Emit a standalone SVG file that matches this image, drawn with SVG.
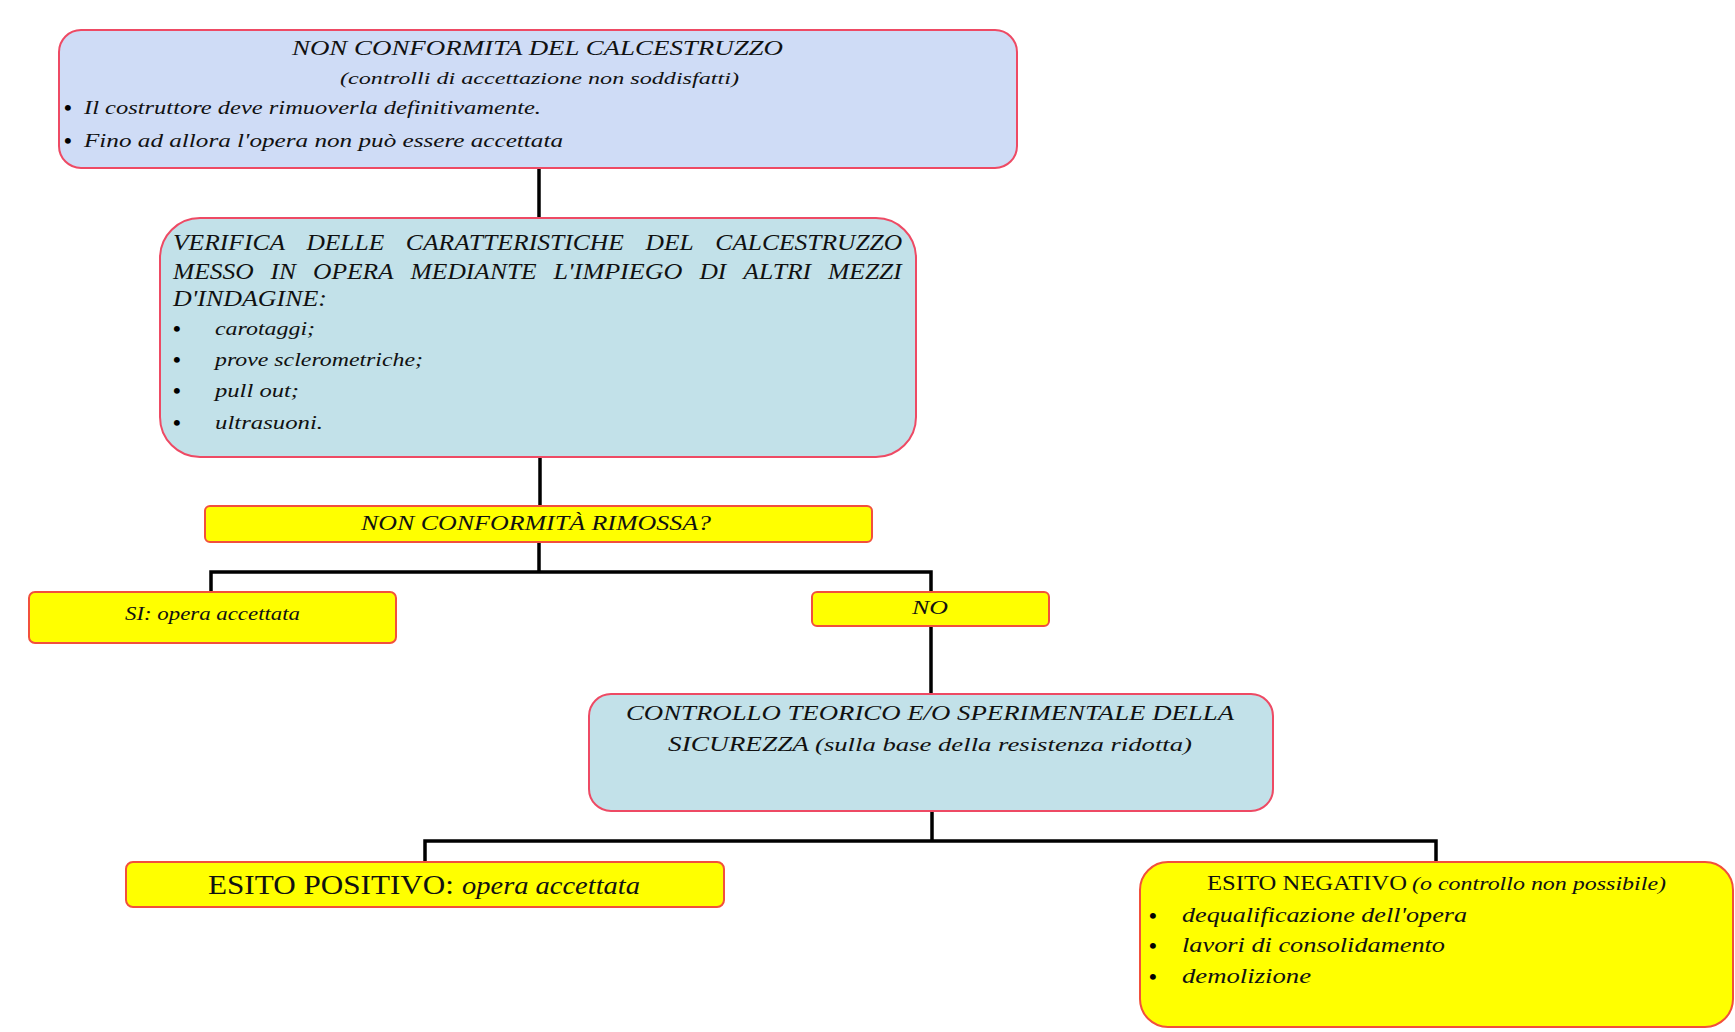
<svg xmlns="http://www.w3.org/2000/svg" width="1735" height="1032" viewBox="0 0 1735 1032">
<style>
.t{font-family:"Liberation Serif","Times New Roman",serif;fill:#111;}
.i{font-style:italic;}
.b{font-family:"Liberation Serif","Times New Roman",serif;fill:#000;font-size:22px;font-weight:bold;}
.lav{fill:#cfdcf6;stroke:#ee4a64;stroke-width:2;}
.blu{fill:#c2e1e9;stroke:#ee4a64;stroke-width:2;}
.yel{fill:#ffff00;stroke:#f2503c;stroke-width:2;}
.c{fill:none;stroke:#000;stroke-width:3.5;}
.w{font-family:"Liberation Serif","Times New Roman",serif;fill:#111;font-style:italic;font-size:23px;}
</style>
<rect width="1735" height="1032" fill="#fff"/>
<g id="connectors">
<path class="c" d="M539 168V218"/>
<path class="c" d="M540 457V506"/>
<path class="c" d="M539 542V572M211 592V572H931V592"/>
<path class="c" d="M931 626V694"/>
<path class="c" d="M932 811V841M425 862V841H1436V862"/>
</g>
<g id="n1">
<rect class="lav" x="59" y="30" width="958" height="138" rx="22"/>
<text class="t i" x="292" y="55" font-size="22" textLength="491" lengthAdjust="spacingAndGlyphs">NON CONFORMITA DEL CALCESTRUZZO</text>
<text class="t i" x="340" y="84" font-size="17" textLength="399" lengthAdjust="spacingAndGlyphs">(controlli di accettazione non soddisfatti)</text>
<text class="b" x="64" y="115">•</text>
<text class="t i" x="84" y="114" font-size="18" textLength="457" lengthAdjust="spacingAndGlyphs">Il costruttore deve rimuoverla definitivamente.</text>
<text class="b" x="64" y="148">•</text>
<text class="t i" x="84" y="147" font-size="19" textLength="479" lengthAdjust="spacingAndGlyphs">Fino ad allora l'opera non può essere accettata</text>
</g>
<g id="n2">
<rect class="blu" x="160" y="218" width="756" height="239" rx="40"/>
<text class="w" x="173" y="250" textLength="112" lengthAdjust="spacingAndGlyphs">VERIFICA</text>
<text class="w" x="306.4" y="250" textLength="77.9" lengthAdjust="spacingAndGlyphs">DELLE</text>
<text class="w" x="405.8" y="250" textLength="218.2" lengthAdjust="spacingAndGlyphs">CARATTERISTICHE</text>
<text class="w" x="645.5" y="250" textLength="48.2" lengthAdjust="spacingAndGlyphs">DEL</text>
<text class="w" x="715.2" y="250" textLength="187" lengthAdjust="spacingAndGlyphs">CALCESTRUZZO</text>
<text class="w" x="173" y="279" textLength="80.7" lengthAdjust="spacingAndGlyphs">MESSO</text>
<text class="w" x="270.6" y="279" textLength="25.5" lengthAdjust="spacingAndGlyphs">IN</text>
<text class="w" x="313" y="279" textLength="80.7" lengthAdjust="spacingAndGlyphs">OPERA</text>
<text class="w" x="410.6" y="279" textLength="126.1" lengthAdjust="spacingAndGlyphs">MEDIANTE</text>
<text class="w" x="553.6" y="279" textLength="128.9" lengthAdjust="spacingAndGlyphs">L'IMPIEGO</text>
<text class="w" x="699.4" y="279" textLength="26.9" lengthAdjust="spacingAndGlyphs">DI</text>
<text class="w" x="743.2" y="279" textLength="68" lengthAdjust="spacingAndGlyphs">ALTRI</text>
<text class="w" x="828.1" y="279" textLength="73.7" lengthAdjust="spacingAndGlyphs">MEZZI</text>
<text class="w" x="173" y="306" textLength="154" lengthAdjust="spacingAndGlyphs">D'INDAGINE:</text>
<text class="b" x="173" y="336">•</text>
<text class="t i" x="215" y="335" font-size="19" textLength="100" lengthAdjust="spacingAndGlyphs">carotaggi;</text>
<text class="b" x="173" y="367">•</text>
<text class="t i" x="215" y="366" font-size="19" textLength="208" lengthAdjust="spacingAndGlyphs">prove sclerometriche;</text>
<text class="b" x="173" y="398">•</text>
<text class="t i" x="215" y="397" font-size="19" textLength="84" lengthAdjust="spacingAndGlyphs">pull out;</text>
<text class="b" x="173" y="430">•</text>
<text class="t i" x="215" y="429" font-size="19" textLength="108" lengthAdjust="spacingAndGlyphs">ultrasuoni.</text>
</g>
<g id="n3">
<rect class="yel" x="205" y="506" width="667" height="36" rx="5"/>
<text class="t i" x="361" y="530" font-size="20" textLength="350" lengthAdjust="spacingAndGlyphs">NON CONFORMITÀ RIMOSSA?</text>
</g>
<g id="n4">
<rect class="yel" x="29" y="592" width="367" height="51" rx="6"/>
<text class="t i" x="125" y="620" font-size="19" textLength="175" lengthAdjust="spacingAndGlyphs">SI: opera accettata</text>
</g>
<g id="n5">
<rect class="yel" x="812" y="592" width="237" height="34" rx="5"/>
<text class="t i" x="912" y="614" font-size="19" textLength="36" lengthAdjust="spacingAndGlyphs">NO</text>
</g>
<g id="n6">
<rect class="blu" x="589" y="694" width="684" height="117" rx="22"/>
<text class="t i" x="626" y="720" font-size="22" textLength="608" lengthAdjust="spacingAndGlyphs">CONTROLLO TEORICO E/O SPERIMENTALE DELLA</text>
<text class="t i" x="668" y="751" font-size="22" textLength="141" lengthAdjust="spacingAndGlyphs">SICUREZZA</text>
<text class="t i" x="815" y="751" font-size="19" textLength="377" lengthAdjust="spacingAndGlyphs">(sulla base della resistenza ridotta)</text>
</g>
<g id="n7">
<rect class="yel" x="126" y="862" width="598" height="45" rx="7"/>
<text class="t" x="208" y="894" font-size="27" textLength="246" lengthAdjust="spacingAndGlyphs">ESITO POSITIVO:</text>
<text class="t i" x="462" y="894" font-size="25" textLength="178" lengthAdjust="spacingAndGlyphs">opera accettata</text>
</g>
<g id="n8">
<rect class="yel" x="1140" y="862" width="593" height="165" rx="28"/>
<text class="t" x="1207" y="890" font-size="21" textLength="200" lengthAdjust="spacingAndGlyphs">ESITO NEGATIVO</text>
<text class="t i" x="1412" y="890" font-size="18" textLength="254" lengthAdjust="spacingAndGlyphs">(o controllo non possibile)</text>
<text class="b" x="1149" y="923">•</text>
<text class="t i" x="1182" y="922" font-size="21" textLength="285" lengthAdjust="spacingAndGlyphs">dequalificazione dell'opera</text>
<text class="b" x="1149" y="953">•</text>
<text class="t i" x="1182" y="952" font-size="21" textLength="263" lengthAdjust="spacingAndGlyphs">lavori di consolidamento</text>
<text class="b" x="1149" y="984">•</text>
<text class="t i" x="1182" y="983" font-size="21" textLength="129" lengthAdjust="spacingAndGlyphs">demolizione</text>
</g>
</svg>
